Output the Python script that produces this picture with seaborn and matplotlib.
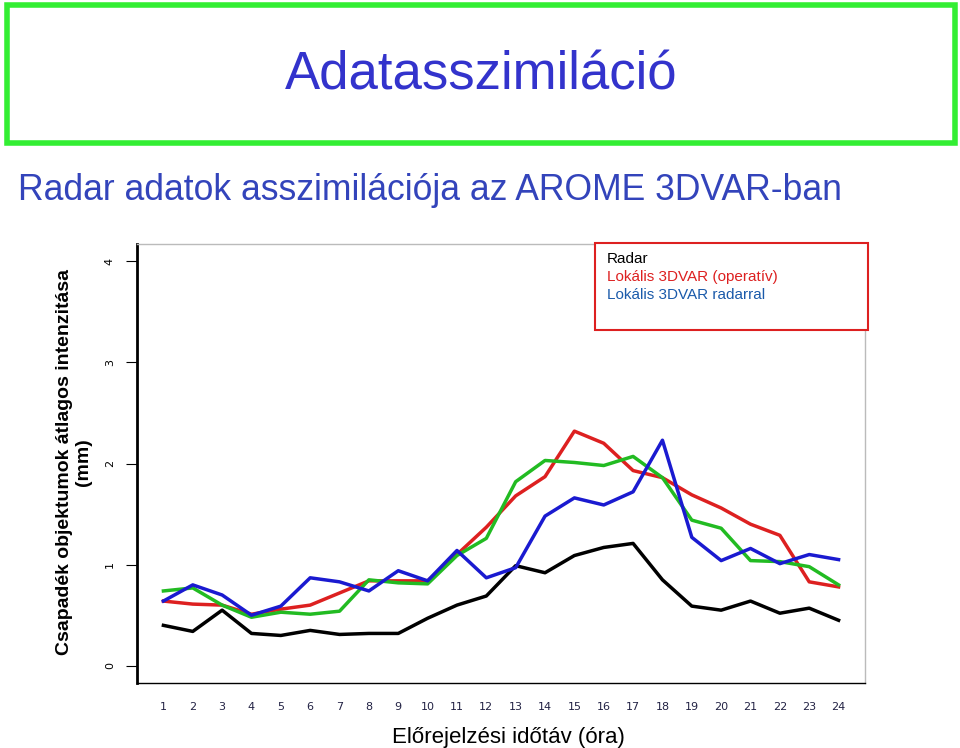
import numpy as np
import pandas as pd
import seaborn as sns
import matplotlib.pyplot as plt
from matplotlib.patches import Rectangle

hours = list(range(1, 25))
radar = [0.40, 0.34, 0.55, 0.32, 0.30, 0.35, 0.31, 0.32, 0.32, 0.47, 0.60, 0.69,
         0.99, 0.92, 1.09, 1.17, 1.21, 0.85, 0.59, 0.55, 0.64, 0.52, 0.57, 0.45]
operativ = [0.64, 0.61, 0.60, 0.51, 0.56, 0.60, 0.72, 0.84, 0.84, 0.84, 1.10, 1.37,
            1.68, 1.87, 2.32, 2.20, 1.93, 1.86, 1.69, 1.56, 1.40, 1.29, 0.83, 0.78]
zold = [0.74, 0.77, 0.60, 0.48, 0.53, 0.51, 0.54, 0.85, 0.82, 0.81, 1.09, 1.26,
        1.82, 2.03, 2.01, 1.98, 2.07, 1.86, 1.44, 1.36, 1.04, 1.03, 0.98, 0.80]
radarral = [0.64, 0.80, 0.70, 0.50, 0.59, 0.87, 0.83, 0.74, 0.94, 0.84, 1.14, 0.87,
            0.97, 1.48, 1.66, 1.59, 1.72, 2.23, 1.27, 1.04, 1.16, 1.01, 1.10, 1.05]

series = {"Radar": (radar, "black"),
          "Operatív": (operativ, "#dd2020"),
          "Zöld": (zold, "#22bb22"),
          "Radarral": (radarral, "#1a1ad0")}

fig = plt.figure(figsize=(9.6, 7.48), dpi=100)

# title box
fig.patches.append(Rectangle((7 / 960, 1 - 143 / 748), 948 / 960, 138 / 748,
                             transform=fig.transFigure, fill=False,
                             edgecolor="#33ee33", linewidth=4))
fig.text(481 / 960, 1 - 75 / 748, "Adatasszimiláció", ha="center", va="center",
         fontsize=38, color="#3333cc", family="Liberation Sans")
fig.text(18 / 960, 1 - 190 / 748, "Radar adatok asszimilációja az AROME 3DVAR-ban",
         ha="left", va="center", fontsize=25.6, color="#3344bb", family="Liberation Sans")

ax = fig.add_axes([137 / 960, 1 - 683 / 748, 728 / 960, 439 / 748])
for name, (vals, col) in series.items():
    df = pd.DataFrame({"hour": hours, "val": vals})
    sns.lineplot(data=df, x="hour", y="val", color=col, linewidth=2.5, ax=ax)

ax.set_xlim(0.1, 24.9)
ax.set_ylim(-0.17, 4.17)
ax.set_xticks(hours)
ax.set_xticklabels([str(h) for h in hours], fontsize=8, color="#222244")
ax.set_yticks([0, 1, 2, 3, 4])
ax.set_yticklabels(["0", "1", "2", "3", "4"], rotation=90, fontsize=8, va="center")
ax.tick_params(axis="y", length=8, pad=8)
ax.tick_params(axis="x", length=0, pad=14)
ax.set_xlabel("")
ax.set_ylabel("")
for s in ["top", "right"]:
    ax.spines[s].set_color("#bbbbbb")
    ax.spines[s].set_linewidth(1)
ax.spines["left"].set_linewidth(2)
ax.spines["bottom"].set_linewidth(1)

fig.text(508 / 960, 1 - 737 / 748, "Előrejelzési időtáv (óra)", ha="center",
         va="center", fontsize=16, family="Liberation Sans")
fig.text(74 / 960, 1 - 462 / 748, "Csapadék objektumok átlagos intenzitása\n(mm)",
         ha="center", va="center", rotation=90, fontsize=14, fontweight="bold",
         family="Liberation Sans", linespacing=1.2)

# legend box
fig.patches.append(Rectangle((595 / 960, 1 - 330 / 748), 273 / 960, 87 / 748,
                             transform=fig.transFigure, facecolor="white",
                             edgecolor="#dd2020", linewidth=1.5, zorder=5))
for i, (txt, col) in enumerate([("Radar", "black"),
                                ("Lokális 3DVAR (operatív)", "#dd2020"),
                                ("Lokális 3DVAR radarral", "#1a5aaa")]):
    fig.text(607 / 960, 1 - (259 + i * 18) / 748, txt, ha="left", va="center",
             fontsize=11, color=col, family="Liberation Sans", zorder=6)

fig.savefig("out.png", dpi=100)
